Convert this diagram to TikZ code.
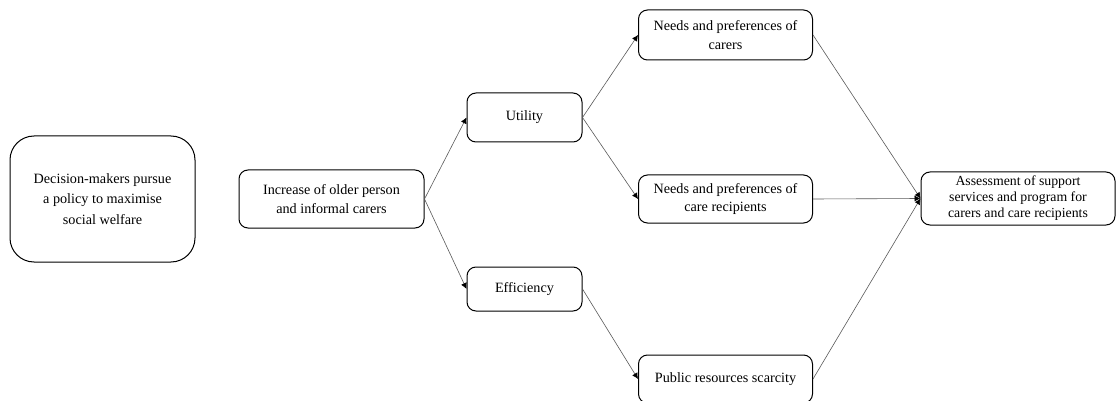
\documentclass[tikz,border=0pt]{standalone}
\usepackage{fontspec}
\setmainfont{Liberation Serif}
\usetikzlibrary{arrows.meta}
\begin{document}
\begin{tikzpicture}[x=1pt,y=-1pt,
  box/.style={draw=black, line width=1pt, rounded corners=9pt, align=center, inner sep=0pt,
    font=\fontsize{14.2}{18.5}\selectfont},
  conn/.style={draw=black!65, line width=0.6pt, -{Latex[length=6pt,width=6pt,black]}}]
\useasboundingbox (0,0) rectangle (1117,401);
\node[box, rounded corners=24pt, minimum width=185pt, minimum height=126pt, font=\fontsize{14.2}{20.5}\selectfont] (dm) at (102.5,199) {Decision-makers pursue\\a policy to maximise\\social welfare};
\node[box, minimum width=185pt, minimum height=58pt] (inc) at (331.5,199) {Increase of older person\\and informal carers};
\node[box, minimum width=115pt, minimum height=49pt] (ut) at (524.5,117.5) {Utility};
\node[box, minimum width=115pt, minimum height=44pt] (ef) at (524.5,289) {Efficiency};
\node[box, minimum width=174pt, minimum height=50pt] (n1) at (725.5,35) {Needs and preferences of\\carers};
\node[box, minimum width=174pt, minimum height=48pt] (n2) at (725.5,199) {Needs and preferences of\\care recipients};
\node[box, minimum width=174pt, minimum height=48pt] (pr) at (725.5,379) {Public resources scarcity};
\node[box, minimum width=194pt, minimum height=53pt, font=\fontsize{13.8}{16}\selectfont] (as) at (1018,198.5) {Assessment of support\\services and program for\\carers and care recipients};
\draw[conn] (inc.east) -- (ut.west);
\draw[conn] (inc.east) -- (ef.west);
\draw[conn] (ut.east) -- (n1.west);
\draw[conn] (ut.east) -- (n2.west);
\draw[conn] (ef.east) -- (pr.west);
\draw[conn] (n1.east) -- (as.west);
\draw[conn] (n2.east) -- (as.west);
\draw[conn] (pr.east) -- (as.west);
\end{tikzpicture}
\end{document}
